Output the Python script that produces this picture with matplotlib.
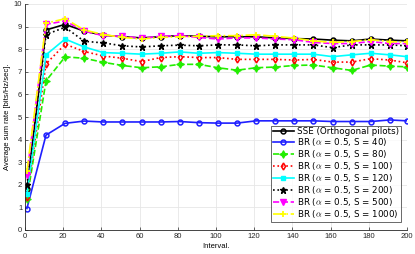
import matplotlib.pyplot as plt

# =========================
# DATA
# =========================
interval = [1, 11, 21, 31, 41, 51, 61, 71, 81, 91, 101, 111, 121, 131, 141,
            151, 161, 171, 181, 191, 200]

sse = [1.8, 8.85, 9.1, 8.8, 8.62, 8.55, 8.5, 8.55, 8.6, 8.57, 8.55, 8.55,
       8.55, 8.5, 8.47, 8.45, 8.4, 8.37, 8.45, 8.4, 8.37]
br_40 = [0.95, 4.2, 4.72, 4.82, 4.78, 4.78, 4.78, 4.78, 4.8, 4.75, 4.73,
         4.73, 4.83, 4.83, 4.83, 4.83, 4.8, 4.8, 4.8, 4.87, 4.83]
br_80 = [1.35, 6.6, 7.66, 7.6, 7.42, 7.28, 7.18, 7.22, 7.33, 7.33, 7.18,
         7.07, 7.18, 7.21, 7.28, 7.3, 7.18, 7.06, 7.3, 7.25, 7.22]
br_100 = [1.45, 7.35, 8.22, 7.9, 7.7, 7.6, 7.45, 7.63, 7.67, 7.63, 7.63,
          7.55, 7.55, 7.55, 7.52, 7.55, 7.43, 7.43, 7.58, 7.52, 7.4]
br_120 = [1.6, 7.75, 8.45, 8.1, 7.85, 7.82, 7.78, 7.82, 7.88, 7.82, 7.85,
          7.82, 7.78, 7.78, 7.78, 7.78, 7.67, 7.75, 7.82, 7.75, 7.67]
br_200 = [2.0, 8.65, 8.97, 8.35, 8.28, 8.15, 8.1, 8.15, 8.18, 8.15, 8.19,
          8.19, 8.15, 8.19, 8.19, 8.19, 8.07, 8.19, 8.19, 8.19, 8.15]
br_500 = [2.45, 9.1, 9.25, 8.8, 8.6, 8.57, 8.49, 8.57, 8.6, 8.52, 8.45,
          8.5, 8.5, 8.45, 8.42, 8.3, 8.25, 8.25, 8.34, 8.25, 8.25]
br_1000 = [2.6, 9.15, 9.35, 8.85, 8.65, 8.52, 8.45, 8.52, 8.55, 8.57, 8.6,
           8.6, 8.64, 8.57, 8.49, 8.37, 8.3, 8.34, 8.42, 8.34, 8.3]

labels = ["SSE (Orthogonal pilots)",
          r"BR ($\alpha$ = 0.5, S = 40)",
          r"BR ($\alpha$ = 0.5, S = 80)",
          r"BR ($\alpha$ = 0.5, S = 100)",
          r"BR ($\alpha$ = 0.5, S = 120)",
          r"BR ($\alpha$ = 0.5, S = 200)",
          r"BR ($\alpha$ = 0.5, S = 500)",
          r"BR ($\alpha$ = 0.5, S = 1000)"]

# =========================
# PLOT
# =========================
plt.rcParams["font.family"] = ["Liberation Sans", "DejaVu Sans"]
plt.rcParams["mathtext.fontset"] = "cm"

fig = plt.figure(figsize=(4.15, 2.54), dpi=100)
ax = fig.add_axes([25 / 415, 24 / 254, 382 / 415, 226 / 254])

ax.plot(interval, sse, color="black", ls="-", lw=1.2, marker="o",
        ms=3.5, mfc="none", mew=1.1, label=labels[0])
ax.plot(interval, br_40, color="#1f1fff", ls="-", lw=1.2, marker="o",
        ms=3.5, mfc="none", mew=1.1, label=labels[1])
ax.plot(interval, br_80, color="#22ee00", ls="--", lw=1.2, marker=(4, 1, 0),
        ms=5.5, mew=0.8, label=labels[2])
ax.plot(interval, br_100, color="red", ls=":", lw=1.2, marker="d",
        ms=3.5, mfc="none", mew=1.1, label=labels[3])
ax.plot(interval, br_120, color="cyan", ls="-", lw=1.2, marker="s",
        ms=3.2, label=labels[4])
ax.plot(interval, br_200, color="black", ls=":", lw=1.2, marker="*",
        ms=5, label=labels[5])
ax.plot(interval, br_500, color="magenta", ls="--", lw=1.2, marker="v",
        ms=4, label=labels[6])
ax.plot(interval, br_1000, color="yellow", ls="-.", lw=1.2, marker="+",
        ms=5, mew=1.3, label=labels[7])

ax.set_xlim(0, 200)
ax.set_ylim(0, 10)
ax.set_xticks(range(0, 201, 20))
ax.set_yticks(range(0, 11))
ax.grid(True, color="#e6e6e6", lw=0.6)
ax.set_axisbelow(True)
ax.tick_params(labelsize=5.5, length=2, width=0.5, colors="#262626",
               direction="in", pad=2)
for side in ["left", "bottom"]:
    ax.spines[side].set_color("#262626")
    ax.spines[side].set_linewidth(0.6)
for side in ["top", "right"]:
    ax.spines[side].set_visible(False)

ax.set_xlabel("Interval.", fontsize=5.5, labelpad=2)
ax.set_ylabel("Average sum rate [bits/Hz/sec].", fontsize=5.5, labelpad=2)

leg = ax.legend(loc="lower right", frameon=True, fancybox=False,
                prop={"family": "DejaVu Sans", "size": 6.3},
                edgecolor="#262626", handlelength=2.4, handletextpad=0.4,
                borderpad=0.2, labelspacing=0.0, borderaxespad=0,
                bbox_to_anchor=(0.985, 0.035))
leg.get_frame().set_linewidth(0.6)

plt.savefig("out.png", dpi=100)
